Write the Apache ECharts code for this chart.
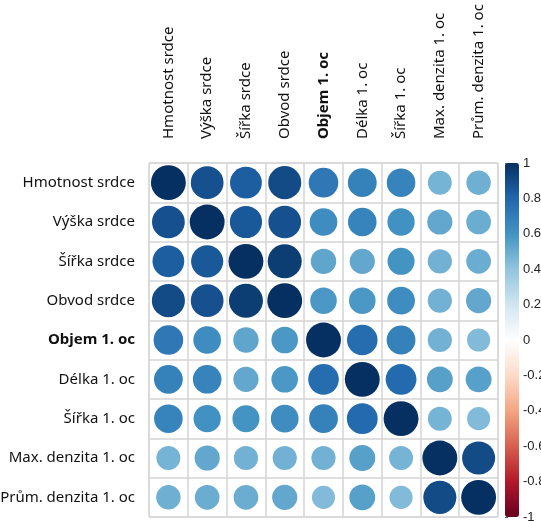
<!DOCTYPE html>
<html>
<head>
<meta charset="utf-8">
<script src="https://cdn.jsdelivr.net/npm/echarts@6/dist/echarts.min.js"></script>
<style>
  html, body { margin: 0; padding: 0; background: #fff; }
  #chart { width: 541px; height: 521px; }
</style>
</head>
<body>
<div id="chart"></div>
<script>
// Variables of the correlation matrix (rows and columns share the same order)
const variables = [
  'Hmotnost srdce', 'Výška srdce', 'Šířka srdce', 'Obvod srdce',
  'Objem 1. oc', 'Délka 1. oc', 'Šířka 1. oc',
  'Max. denzita 1. oc', 'Prům. denzita 1. oc'
];

// Correlation coefficients, one array per row
const rowHmotnost = [1.00, 0.88, 0.83, 0.90, 0.72, 0.68, 0.67, 0.47, 0.49];
const rowVyska    = [0.88, 1.00, 0.85, 0.88, 0.63, 0.67, 0.61, 0.52, 0.50];
const rowSirka    = [0.83, 0.85, 1.00, 0.95, 0.53, 0.52, 0.60, 0.48, 0.50];
const rowObvod    = [0.90, 0.88, 0.95, 1.00, 0.58, 0.58, 0.63, 0.48, 0.52];
const rowObjem    = [0.72, 0.63, 0.53, 0.58, 1.00, 0.77, 0.68, 0.48, 0.44];
const rowDelka    = [0.68, 0.67, 0.52, 0.58, 0.77, 1.00, 0.78, 0.55, 0.55];
const rowSirkaOc  = [0.67, 0.61, 0.60, 0.63, 0.68, 0.78, 1.00, 0.47, 0.44];
const rowMaxDenz  = [0.47, 0.52, 0.48, 0.48, 0.48, 0.55, 0.47, 1.00, 0.90];
const rowPrumDenz = [0.49, 0.50, 0.50, 0.52, 0.44, 0.55, 0.44, 0.90, 1.00];

const matrix = [rowHmotnost, rowVyska, rowSirka, rowObvod, rowObjem,
                rowDelka, rowSirkaOc, rowMaxDenz, rowPrumDenz];

// Colour bar tick labels
const scaleTicks = [-1, -0.8, -0.6, -0.4, -0.2, 0, 0.2, 0.4, 0.6, 0.8, 1];

// Diverging red-blue palette from -1 to 1
const palette = ['#67001F', '#B2182B', '#D6604D', '#F4A582', '#FDDBC7', '#FFFFFF',
                 '#D1E5F0', '#92C5DE', '#4393C3', '#2166AC', '#053061'];

const points = [];
matrix.forEach((row, i) => row.forEach((r, j) => points.push([j, i, r])));

const boldName = 'Objem 1. oc';
const labelFont = '"Noto Sans", "Open Sans", sans-serif';
const labelSize = 15;

const gridLeft = 149, gridTop = 163, gridW = 349, gridH = 354;
const cell = gridW / variables.length;

const nameFormatter = v => v === boldName ? '{b|' + v + '}' : v;
const nameRich = { b: { fontWeight: 'bold', fontFamily: labelFont, fontSize: labelSize, color: '#111' } };

const chart = echarts.init(document.getElementById('chart'), null, { renderer: 'canvas' });

chart.setOption({
  animation: false,
  backgroundColor: '#ffffff',
  grid: [
    { left: gridLeft, top: gridTop, width: gridW, height: gridH,
      outerBoundsMode: 'none', containLabel: false,
      show: true, borderColor: '#d4d4d4', borderWidth: 1 },
    { left: 505, top: gridTop, width: 14, height: gridH,
      outerBoundsMode: 'none', containLabel: false, show: false }
  ],
  xAxis: [
    {
      type: 'category', gridIndex: 0, data: variables, position: 'top',
      axisLine: { show: false }, axisTick: { show: false },
      splitLine: { show: true, interval: 0, lineStyle: { color: '#d4d4d4', width: 1.5 } },
      axisLabel: {
        rotate: -90, interval: 0, margin: 24, color: '#111',
        fontFamily: labelFont, fontSize: labelSize,
        formatter: nameFormatter, rich: nameRich
      }
    },
    { type: 'value', gridIndex: 1, show: false, min: 0, max: 1 }
  ],
  yAxis: [
    {
      type: 'category', gridIndex: 0, data: variables, inverse: true,
      axisLine: { show: false }, axisTick: { show: false },
      splitLine: { show: true, interval: 0, lineStyle: { color: '#d4d4d4', width: 1.5 } },
      axisLabel: {
        interval: 0, margin: 14, color: '#111',
        fontFamily: labelFont, fontSize: labelSize,
        formatter: nameFormatter, rich: nameRich
      }
    },
    {
      type: 'value', gridIndex: 1, position: 'right',
      min: scaleTicks[0], max: scaleTicks[scaleTicks.length - 1], interval: 0.2,
      axisLine: { show: false },
      axisTick: { show: true, length: 3, lineStyle: { color: '#555' } },
      splitLine: { show: false },
      axisLabel: {
        margin: 4, color: '#222', fontFamily: '"Liberation Sans", Arial, sans-serif', fontSize: 13,
        formatter: v => String(Math.round(v * 10) / 10)
      }
    }
  ],
  visualMap: {
    type: 'continuous', min: -1, max: 1, dimension: 2, seriesIndex: 0,
    calculable: false, realtime: false, text: null, showLabel: false,
    orient: 'vertical', left: 505, top: gridTop, padding: 0,
    itemWidth: 14, itemHeight: gridH,
    inRange: { color: palette }
  },
  series: [{
    type: 'scatter', xAxisIndex: 0, yAxisIndex: 0,
    data: points,
    symbol: 'circle',
    symbolSize: v => 0.9 * cell * Math.sqrt(Math.abs(v[2])),
    itemStyle: { opacity: 1 }
  }]
});
</script>
</body>
</html>
